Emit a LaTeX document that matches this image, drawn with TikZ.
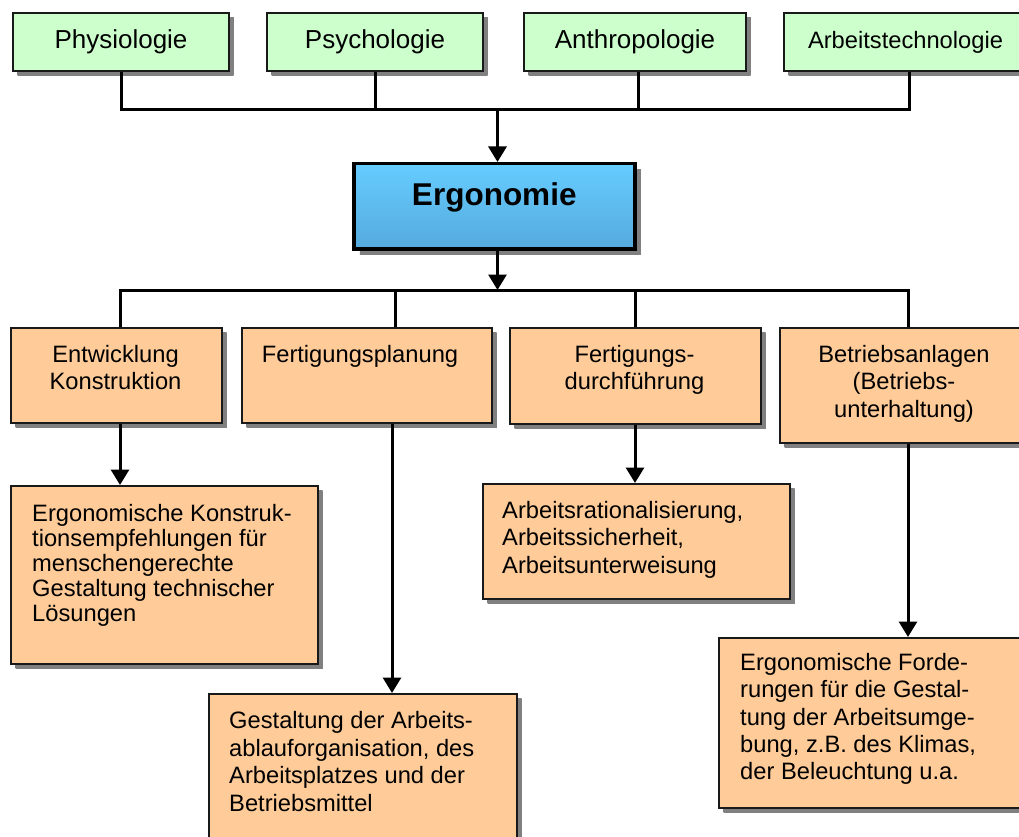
\documentclass[tikz,border=0pt]{standalone}
\usepackage{fontspec}
\setmainfont{Liberation Sans}
\usetikzlibrary{arrows.meta,shadows}
\definecolor{discgreen}{HTML}{CCFFCC}
\definecolor{areaorange}{HTML}{FFCC99}
\definecolor{ergotop}{HTML}{66CCFF}
\definecolor{ergobottom}{HTML}{55AADD}
\definecolor{shadowgray}{HTML}{808080}
\begin{document}
\begin{tikzpicture}[x=1pt,y=-1pt,
  shadowed/.style={drop shadow={shadow xshift=#1, shadow yshift=-#1,
      fill=shadowgray, top color=shadowgray, bottom color=shadowgray, opacity=1}},
  panel/.style={rectangle, anchor=north west, inner sep=0pt, draw=black!90, line width=2pt},
  discipline/.style={panel, fill=discgreen, shadowed=4.5pt, font=\fontsize{26}{30}\selectfont},
  area/.style={panel, fill=areaorange, shadowed=4.5pt},
  core/.style={rectangle, anchor=north west, draw=black, line width=3.5pt,
      top color=ergotop, bottom color=ergobottom, shadowed=6pt,
      font=\bfseries\fontsize{31.5}{36}\selectfont, text height=22pt, text depth=23pt},
  boxtext/.style={inner sep=0pt, font=\fontsize{23.7}{27.4}\selectfont},
  conn/.style={line width=3pt, black},
  arr/.style={conn, -{Triangle[width=18pt 0 0,length=15.5pt 0 0]}}
]
\useasboundingbox (0,0) rectangle (1019,837);
\clip (0,0) rectangle (1019,837);

% contributing disciplines
\node[discipline, minimum width=216pt, minimum height=58pt] (P1) at (12,12) {Physiologie};
\node[discipline, minimum width=216pt, minimum height=58pt] (P2) at (266,12) {Psychologie};
\node[discipline, minimum width=222pt, minimum height=58pt] (P3) at (523,12) {Anthropologie};
\node[discipline, minimum width=243pt, minimum height=58pt,
      font=\fontsize{23.7}{27}\selectfont] (P4) at (783,12) {Arbeitstechnologie};

% central node
\node[core, minimum width=281pt, minimum height=85pt] (E) at (352,162) {Ergonomie};

% fields of application
\node[area, minimum width=211pt, minimum height=95pt] (A) at (10,327) {};
\node[area, minimum width=250pt, minimum height=95pt] (B) at (241,327) {};
\node[area, minimum width=251pt, minimum height=96pt] (C) at (509,327) {};
\node[area, minimum width=251pt, minimum height=115pt] (D) at (779,327) {};

\node[boxtext, anchor=north, align=center] (tA) at (115.5,345) {Entwicklung\\Konstruktion};
\node[boxtext, anchor=north, align=center] (tB) at (360,345) {Fertigungsplanung};
\node[boxtext, anchor=north, align=center] (tC) at (634.5,345) {Fertigungs-\\durchführung};
\node[boxtext, anchor=north, align=center] (tD) at (904,345) {Betriebsanlagen\\(Betriebs-\\unterhaltung)};

% results
\node[area, minimum width=307pt, minimum height=178pt] (R1) at (10,485) {};
\node[area, minimum width=308pt, minimum height=160pt] (R2) at (208,693) {};
\node[area, minimum width=307pt, minimum height=115pt] (R3) at (482,483) {};
\node[area, minimum width=312pt, minimum height=170pt] (R4) at (718,637) {};

\node[boxtext, anchor=north west, align=left, font=\fontsize{23.7}{25}\selectfont] (t1) at (32,504.5)
  {Ergonomische Konstruk-\\tionsempfehlungen für\\menschengerechte\\Gestaltung technischer\\Lösungen};
\node[boxtext, anchor=north west, align=left] (t2) at (229,711.5)
  {Gestaltung der Arbeits-\\ablauforganisation, des\\Arbeitsplatzes und der\\Betriebsmittel};
\node[boxtext, anchor=north west, align=left] (t3) at (502,501)
  {Arbeitsrationalisierung,\\Arbeitssicherheit,\\Arbeitsunterweisung};
\node[boxtext, anchor=north west, align=left] (t4) at (740,653)
  {Ergonomische Forde-\\rungen für die Gestal-\\tung der Arbeitsumge-\\bung, z.B. des Klimas,\\der Beleuchtung u.a.};

% connectors
\coordinate (busT) at (497.5,110);
\coordinate (busB) at (497.5,290);
\coordinate (dA) at (120,290);
\coordinate (dB) at (395,290);
\coordinate (dC) at (635,290);
\coordinate (dD) at (908,290);
\coordinate (aB) at (392,422);

\draw[conn] (P1.south) |- (busT) -| ([xshift=3.5pt]P4.south);
\draw[conn] (P2.south) -- (P2.south |- busT);
\draw[conn] ([xshift=3pt]P3.south) -- ([xshift=3pt]P3.south |- busT);
\draw[arr] (busT) -- (busT |- E.north);

\draw[arr] (busB |- E.south) -- (busB);
\draw[conn] (dA |- A.north) -- (dA) -- (dD) -- (dD |- D.north);
\draw[conn] (dB) -- (dB |- B.north);
\draw[conn] (dC) -- (dC |- C.north);

\draw[arr] (dA |- A.south) -- (dA |- R1.north);
\draw[arr] (aB |- B.south) -- (aB |- R2.north);
\draw[arr] (dC |- C.south) -- (dC |- R3.north);
\draw[arr] (dD |- D.south) -- (dD |- R4.north);
\end{tikzpicture}
\end{document}
